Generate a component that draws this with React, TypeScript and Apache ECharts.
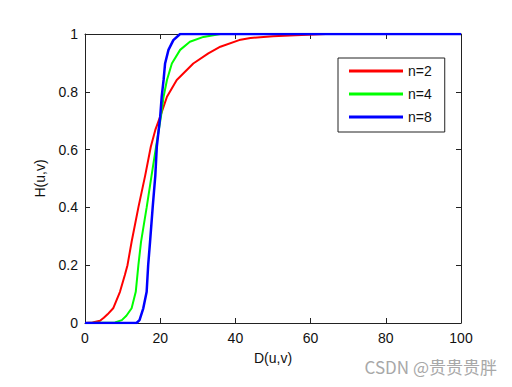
import React, { useEffect, useRef } from "react";
import * as echarts from "echarts";

// Values: [D(u,v), H(u,v)]
const redD = [0, 2, 4, 5, 6, 7.5, 9.3, 10.6, 11.3, 12.4, 14.2, 16, 17.5, 18.7, 20, 21.8, 24.4, 28.8, 32.8, 36, 41, 44, 50, 56, 64, 100];
const redH = [0, 0.002, 0.008, 0.018, 0.03, 0.051, 0.108, 0.166, 0.2, 0.281, 0.4, 0.51, 0.61, 0.668, 0.714, 0.783, 0.841, 0.898, 0.933, 0.956, 0.979, 0.986, 0.992, 0.996, 1, 1];

const greenD = [0, 8, 9.8, 11, 12.4, 13.5, 14.2, 14.9, 16.4, 17.7, 18.9, 20.2, 20.9, 21.8, 23.1, 25.3, 27.9, 31.5, 36, 100];
const greenH = [0, 0.002, 0.01, 0.025, 0.051, 0.108, 0.2, 0.281, 0.4, 0.51, 0.61, 0.714, 0.783, 0.841, 0.898, 0.945, 0.973, 0.99, 1, 1];

const blueD = [0, 13.7, 14.5, 15.5, 16.4, 16.8, 17.3, 18.0, 18.7, 19.1, 20, 20.4, 20.9, 21.3, 22.2, 23.5, 25.3, 100];
const blueH = [0, 0, 0.01, 0.051, 0.108, 0.2, 0.281, 0.4, 0.51, 0.61, 0.714, 0.783, 0.841, 0.898, 0.945, 0.979, 1, 1];

const seriesNames = ["n=2", "n=4", "n=8"];
const xLabel = "D(u,v)";
const yLabel = "H(u,v)";
const watermark = "CSDN @贵贵贵胖";

const zip = (xs: number[], ys: number[]) => xs.map((x, i) => [x, ys[i]]);

export default function App() {
  const ref = useRef<HTMLDivElement>(null);
  useEffect(() => {
    if (!ref.current) return;
    const chart = echarts.init(ref.current, undefined, { renderer: "svg" });
    const font = "'Liberation Sans', Arial, sans-serif";
    const axisLine = { show: true, onZero: false, lineStyle: { color: "#222", width: 1 } };
    const tick = { show: true, inside: true, length: 5, lineStyle: { color: "#222" } };
    chart.setOption({
      animation: false,
      backgroundColor: "#fff",
      textStyle: { fontFamily: font },
      grid: { left: 85, right: 51, top: 34, bottom: 64, containLabel: false },
      xAxis: [
        {
          type: "value",
          min: 0,
          max: 100,
          interval: 20,
          position: "bottom",
          axisLine,
          axisTick: tick,
          splitLine: { show: false },
          axisLabel: { color: "#111", fontSize: 14, margin: 8, fontFamily: font },
          name: xLabel,
          nameLocation: "middle",
          nameGap: 28,
          nameTextStyle: { color: "#111", fontSize: 14, fontFamily: font },
        },
        {
          type: "value",
          min: 0,
          max: 100,
          interval: 20,
          position: "top",
          axisLine,
          axisTick: tick,
          splitLine: { show: false },
          axisLabel: { show: false },
        },
      ],
      yAxis: [
        {
          type: "value",
          min: 0,
          max: 1,
          interval: 0.2,
          position: "left",
          axisLine,
          axisTick: tick,
          splitLine: { show: false },
          axisLabel: { color: "#111", fontSize: 14, margin: 7, fontFamily: font },
          name: yLabel,
          nameLocation: "middle",
          nameGap: 38,
          nameTextStyle: { color: "#111", fontSize: 14, fontFamily: font },
        },
        {
          type: "value",
          min: 0,
          max: 1,
          interval: 0.2,
          position: "right",
          axisLine,
          axisTick: tick,
          splitLine: { show: false },
          axisLabel: { show: false },
        },
      ],
      legend: {
        orient: "vertical",
        left: 338,
        top: 58,
        padding: [5, 13, 7, 11],
        itemGap: 7,
        itemWidth: 54,
        itemHeight: 3,
        icon: "rect",
        backgroundColor: "#fff",
        borderColor: "#222",
        borderWidth: 1,
        borderRadius: 0,
        textStyle: { color: "#111", fontSize: 14, lineHeight: 16, fontFamily: font },
        data: seriesNames,
      },
      series: [
        {
          name: seriesNames[0],
          type: "line",
          data: zip(redD, redH),
          showSymbol: false,
          symbol: "none",
          lineStyle: { color: "#ff0000", width: 2 },
          itemStyle: { color: "#ff0000" },
          z: 2,
        },
        {
          name: seriesNames[1],
          type: "line",
          data: zip(greenD, greenH),
          showSymbol: false,
          symbol: "none",
          lineStyle: { color: "#00ff00", width: 2 },
          itemStyle: { color: "#00ff00" },
          z: 3,
        },
        {
          name: seriesNames[2],
          type: "line",
          data: zip(blueD, blueH),
          showSymbol: false,
          symbol: "none",
          lineStyle: { color: "#0000ff", width: 2.5 },
          itemStyle: { color: "#0000ff" },
          z: 4,
        },
      ],
      graphic: [
        {
          type: "text",
          right: 15,
          top: 358,
          style: {
            text: watermark,
            fill: "#a8a8a8",
            fontSize: 17,
            fontFamily: "'Noto Sans CJK SC', 'Noto Sans', sans-serif",
          },
          z: 10,
        },
      ],
    });
    return () => chart.dispose();
  }, []);
  return (
    <div
      ref={ref}
      style={{ position: "absolute", left: 0, top: 0, width: 512, height: 387, background: "#fff" }}
    />
  );
}
